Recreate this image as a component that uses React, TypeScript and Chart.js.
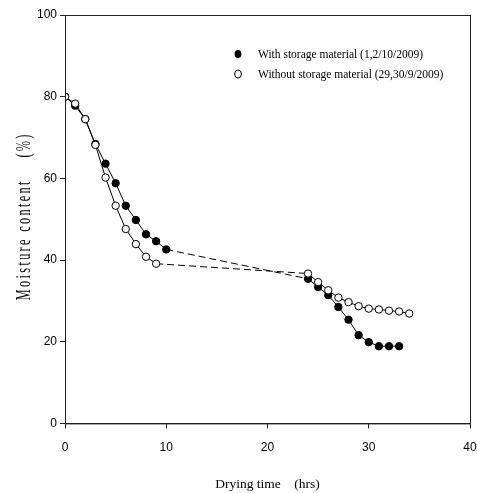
import React, { useEffect, useRef } from "react";
import { Chart, registerables } from "chart.js";

Chart.register(...registerables);

const withTime = [0, 1, 2, 3, 4, 5, 6, 7, 8, 9, 10, 24, 25, 26, 27, 28, 29, 30, 31, 32, 33];
const withMoisture = [80, 77.8, 74.5, 68.4, 63.6, 58.8, 53.3, 49.8, 46.3, 44.6, 42.6, 35.4, 33.4, 31.4, 28.5, 25.4, 21.6, 19.9, 18.9, 18.9, 18.9];
const withoutTime = [0, 1, 2, 3, 4, 5, 6, 7, 8, 9, 24, 25, 26, 27, 28, 29, 30, 31, 32, 33, 34];
const withoutMoisture = [80, 78.3, 74.5, 68.2, 60.2, 53.3, 47.6, 43.9, 40.8, 39.1, 36.7, 34.6, 32.6, 30.8, 29.7, 28.7, 28.1, 27.9, 27.6, 27.4, 26.9];
const legendLabels = ["With storage material (1,2/10/2009)", "Without storage material (29,30/9/2009)"];
const xTitle = "Drying time    (hrs)";
const yTitle = "Moisture content    (%)";

const tickFont = { family: "'Liberation Sans', Arial, sans-serif", size: 12 };
const titleFont = { family: "'Liberation Serif', 'Times New Roman', serif", size: 13.5 };

const framePlugin = {
  id: "frame",
  afterDraw(chart: any) {
    const { ctx, chartArea } = chart;
    ctx.save();
    ctx.strokeStyle = "#222";
    ctx.lineWidth = 1;
    ctx.strokeRect(chartArea.left + 0.5, chartArea.top + 0.5, chartArea.right - chartArea.left, chartArea.bottom - chartArea.top);

    // legend
    const lx = chartArea.left + 173;
    const tx = chartArea.left + 193;
    const rows = [chartArea.top + 39, chartArea.top + 59];
    ctx.font = "11.5px 'Liberation Serif', 'Times New Roman', serif";
    ctx.textBaseline = "middle";
    rows.forEach((y: number, i: number) => {
      ctx.beginPath();
      ctx.ellipse(lx, y, 3.4, 4, 0, 0, Math.PI * 2);
      if (i === 0) {
        ctx.fillStyle = "#000";
        ctx.fill();
      } else {
        ctx.fillStyle = "#fff";
        ctx.fill();
        ctx.strokeStyle = "#000";
        ctx.stroke();
      }
      ctx.fillStyle = "#000";
      ctx.fillText(legendLabels[i], tx, y + 1);
    });

    // y-axis title (letter-spaced, condensed)
    const cy = (chartArea.top + chartArea.bottom) / 2 - 3;
    const cx = chartArea.left - 41;
    ctx.translate(cx, cy);
    ctx.rotate(-Math.PI / 2);
    ctx.font = "21px 'Liberation Serif', 'Times New Roman', serif";
    (ctx as any).letterSpacing = "4px";
    const w = ctx.measureText(yTitle).width;
    const s = 168 / w;
    ctx.scale(s, 1);
    ctx.textAlign = "center";
    ctx.textBaseline = "middle";
    ctx.fillStyle = "#000";
    ctx.fillText(yTitle, 0, 0);
    ctx.restore();
  },
};

const dashed = (c: any) => (c.p1.parsed.x - c.p0.parsed.x > 5 ? [7, 4] : undefined);

export default function App() {
  const ref = useRef<HTMLCanvasElement>(null);
  useEffect(() => {
    document.body.style.margin = "0";
    const chart = new Chart(ref.current!, {
      type: "line",
      data: {
        datasets: [
          {
            label: legendLabels[0],
            data: withTime.map((x, i) => ({ x, y: withMoisture[i] })),
            borderColor: "#000",
            borderWidth: 1,
            backgroundColor: "#000",
            pointBackgroundColor: "#000",
            pointBorderColor: "#000",
            pointRadius: 3.7,
            pointBorderWidth: 1,
            order: 1,
            segment: { borderDash: dashed },
          },
          {
            label: legendLabels[1],
            data: withoutTime.map((x, i) => ({ x, y: withoutMoisture[i] })),
            borderColor: "#000",
            borderWidth: 1,
            backgroundColor: "#fff",
            pointBackgroundColor: "#fff",
            pointBorderColor: "#000",
            pointRadius: 3.7,
            pointBorderWidth: 1,
            order: 0,
            segment: { borderDash: dashed },
          },
        ],
      },
      options: {
        animation: false,
        responsive: false,
        layout: { padding: { top: 15, right: 7, bottom: 0, left: 34 } },
        plugins: { legend: { display: false }, tooltip: { enabled: false } },
        scales: {
          x: {
            type: "linear",
            min: 0,
            max: 40,
            afterFit: (scale: any) => {
              scale.paddingRight = 0;
              scale.paddingLeft = 0;
            },
            ticks: { stepSize: 10, color: "#000", font: tickFont, padding: 12 },
            grid: { display: true, drawOnChartArea: false, drawTicks: true, tickLength: 5, color: "#222" },
            border: { color: "#222", width: 1 },
            title: { display: true, text: xTitle, color: "#000", font: titleFont, padding: { top: 10, bottom: 0 } },
          },
          y: {
            min: 0,
            max: 100,
            afterFit: (scale: any) => {
              scale.paddingTop = 0;
              scale.paddingBottom = 0;
            },
            ticks: { stepSize: 20, color: "#000", font: tickFont, padding: 3 },
            grid: { display: true, drawOnChartArea: false, drawTicks: true, tickLength: 5, color: "#222" },
            border: { color: "#222", width: 1 },
            title: { display: false },
          },
        },
      },
      plugins: [framePlugin],
    });
    return () => chart.destroy();
  }, []);
  return (
    <div style={{ position: "absolute", left: 0, top: 0, width: 477, height: 493, background: "#fff" }}>
      <canvas ref={ref} width={477} height={493} style={{ width: 477, height: 493 }} />
    </div>
  );
}
